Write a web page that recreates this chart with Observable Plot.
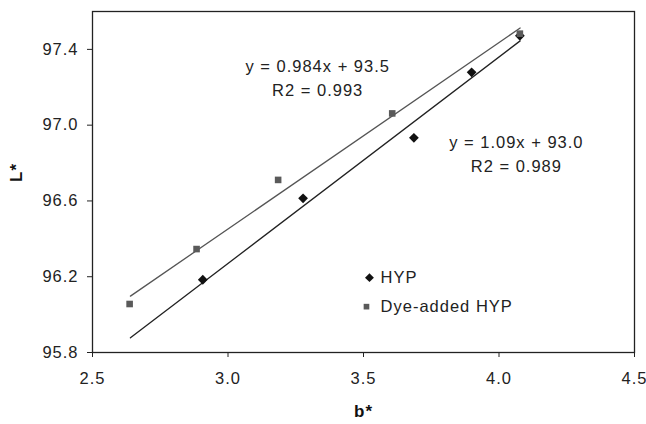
<!DOCTYPE html>
<html><head><meta charset="utf-8">
<script src="https://cdn.jsdelivr.net/npm/d3@7"></script>
<script src="https://cdn.jsdelivr.net/npm/@observablehq/plot@0.6"></script>
<style>
body{margin:0;background:#fff}
svg{font-family:"Liberation Sans",Arial,sans-serif}
svg text{letter-spacing:1px}
</style>
</head><body><div id="chart"></div>
<script>
// Data
const hypB = [2.907, 3.277, 3.686, 3.899, 4.077];
const hypL = [96.184, 96.614, 96.933, 97.279, 97.472];
const dyeB = [2.637, 2.884, 3.185, 3.606, 4.077];
const dyeL = [96.056, 96.346, 96.711, 97.062, 97.483];
const fitRange = [2.64, 4.078];
const hypFit = {slope: 1.09, intercept: 93.0};
const dyeFit = {slope: 0.984, intercept: 93.5};
const hypEq = ["y = 1.09x + 93.0", "R2 = 0.989"];
const dyeEq = ["y = 0.984x + 93.5", "R2 = 0.993"];
const xTicks = [2.5, 3.0, 3.5, 4.0, 4.5];
const yTicks = [95.8, 96.2, 96.6, 97.0, 97.4];
const seriesNames = ["HYP", "Dye-added HYP"];

const hyp = hypB.map((b, i) => ({b, L: hypL[i]}));
const dye = dyeB.map((b, i) => ({b, L: dyeL[i]}));
const lineOf = f => fitRange.map(b => ({b, L: f.slope * b + f.intercept}));

const chart = Plot.plot({
  width: 646, height: 424,
  marginLeft: 92, marginRight: 12, marginTop: 11, marginBottom: 72,
  x: {domain: [2.5, 4.5]},
  y: {domain: [95.8, 97.6]},
  style: {fontFamily: '"Liberation Sans", Arial, sans-serif', color: "#222", background: "#fff"},
  marks: [
    Plot.frame({stroke: "#222", strokeWidth: 1.3}),
    Plot.axisX({ticks: xTicks, tickFormat: d3.format(".1f"), tickSize: 5, tickPadding: 15, fontSize: 16.5, label: null, stroke: "#222"}),
    Plot.axisY({ticks: yTicks, tickFormat: d3.format(".1f"), tickSize: 5, tickPadding: 9, fontSize: 16.5, label: null, stroke: "#222"}),
    Plot.line(lineOf(dyeFit), {x: "b", y: "L", stroke: "#555", strokeWidth: 1.3}),
    Plot.line(lineOf(hypFit), {x: "b", y: "L", stroke: "#222", strokeWidth: 1.3}),
    Plot.dot(hyp, {x: "b", y: "L", symbol: "diamond2", r: 4.4, fill: "#111", stroke: "none"}),
    Plot.dot(dye, {x: "b", y: "L", symbol: "square2", r: 4.2, fill: "#5a5a5a", stroke: "none"}),
    Plot.text([dyeEq.join("\n")], {x: 3.331, y: 97.258, text: d => d, fontSize: 16.5, fill: "#222", lineHeight: 1.45}),
    Plot.text([hypEq.join("\n")], {x: 4.064, y: 96.858, text: d => d, fontSize: 16.5, fill: "#222", lineHeight: 1.45}),
    // legend
    Plot.dot([seriesNames[0]], {x: 3.522, y: 96.195, symbol: "diamond2", r: 4, fill: "#111", stroke: "none"}),
    Plot.dot([seriesNames[1]], {x: 3.511, y: 96.042, symbol: "square2", r: 3.6, fill: "#5a5a5a", stroke: "none"}),
    Plot.text([seriesNames[0]], {x: 3.563, y: 96.195, text: d => d, textAnchor: "start", fontSize: 16.5, fill: "#222"}),
    Plot.text([seriesNames[1]], {x: 3.563, y: 96.042, text: d => d, textAnchor: "start", fontSize: 16.5, fill: "#222"}),
    // axis labels
    Plot.text(["b*"], {frameAnchor: "bottom", dy: 64, text: d => d, fontSize: 17, fontWeight: "bold", fill: "#111"}),
    Plot.text(["L*"], {frameAnchor: "left", dx: -76, rotate: -90, text: d => d, fontSize: 17, fontWeight: "bold", fill: "#111"})
  ]
});
document.getElementById("chart").append(chart);
</script>
</body></html>
